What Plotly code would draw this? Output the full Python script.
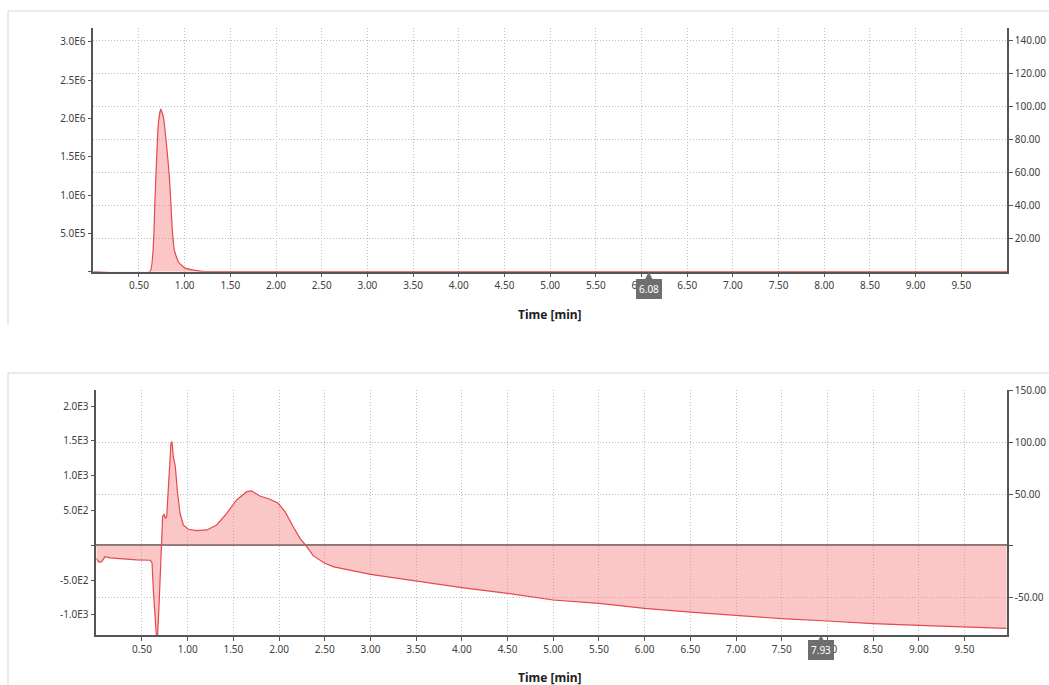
import plotly.graph_objects as go

W, H = 1049, 685

# ---------------- data ----------------
# top chromatogram (intensity, counts)
top_time = [0.0, 0.62, 0.66, 0.675, 0.694, 0.712, 0.738, 0.767, 0.80, 0.83, 0.847,
            0.865, 0.887, 0.93, 1.0, 1.095, 1.19, 1.25, 10.0]
top_vals = [0, 0, 0.41e6, 0.935e6, 1.5e6, 1.94e6, 2.12e6, 2.02e6, 1.67e6, 1.28e6, 0.93e6,
            0.54e6, 0.28e6, 0.13e6, 0.05e6, 0.02e6, 0.005e6, 0, 0]

# bottom trace (signal)
bot_time = [0.00, 0.03, 0.06, 0.095, 0.15, 0.30, 0.44, 0.59, 0.61, 0.624, 0.642, 0.665,
            0.686, 0.705, 0.715, 0.726, 0.74, 0.755, 0.77, 0.79, 0.817, 0.828, 0.843,
            0.865, 0.886, 0.916, 0.952, 1.007, 1.098, 1.21, 1.317, 1.427, 1.536, 1.646,
            1.70, 1.79, 1.90, 1.99, 2.065, 2.155, 2.229, 2.294, 2.375, 2.5, 2.6, 3.0,
            3.5, 4.0, 4.5, 5.0, 5.5, 6.0, 6.5, 7.0, 7.5, 8.0, 8.5, 9.0, 9.5, 9.96]
bot_vals = [-190, -240, -235, -165, -180, -201, -211, -215, -255, -642, -1121, -1450,
            -882, -163, 124, 411, 450, 388, 411, 795, 1466, 1489, 1273,
            1129, 795, 460, 292, 230, 210, 220, 292, 460, 651, 770,
            780, 708, 661, 603, 483, 267, 100, -5, -153, -259, -311, -417,
            -513, -608, -690, -786, -834, -906, -960, -1006, -1054, -1088, -1126, -1150, -1169, -1193]

x_ticks = [0.5 * i for i in range(1, 20)]
x_labels = [f"{v:.2f}" for v in x_ticks]

top_left_ticks = [0, 5e5, 1e6, 1.5e6, 2e6, 2.5e6, 3e6]
top_left_labels = ["", "5.0E5", "1.0E6", "1.5E6", "2.0E6", "2.5E6", "3.0E6"]
top_right_ticks = [20, 40, 60, 80, 100, 120, 140]
top_right_labels = ["20.00", "40.00", "60.00", "80.00", "100.00", "120.00", "140.00"]

bot_left_ticks = [-1000, -500, 0, 500, 1000, 1500, 2000]
bot_left_labels = ["-1.0E3", "-5.0E2", "", "5.0E2", "1.0E3", "1.5E3", "2.0E3"]
bot_right_ticks = [-50, 0, 50, 100, 150]
bot_right_labels = ["-50.00", "", "50.00", "100.00", "150.00"]

cursor_top = 6.08
cursor_bot = 7.93

# ---------------- styling ----------------
LINE = "#E5484D"
FILL = "rgba(245,120,120,0.42)"
AX = "#555555"
GRID = "#bdbdbd"
DASH = "1px,2px"
FONT = dict(family="Noto Sans, Open Sans, sans-serif", size=10, color="#404040")


def px(xp):
    return xp / W


def py(yp):
    return 1 - yp / H


fig = go.Figure()
fig.add_trace(go.Scatter(x=top_time, y=top_vals, mode="lines", fill="tozeroy",
                         line=dict(color=LINE, width=1.2, shape="spline", smoothing=0.4),
                         fillcolor=FILL, xaxis="x", yaxis="y", showlegend=False,
                         hoverinfo="skip"))
fig.add_trace(go.Scatter(x=bot_time, y=bot_vals, mode="lines", fill="tozeroy",
                         line=dict(color=LINE, width=1.2),
                         fillcolor=FILL, xaxis="x2", yaxis="y3", showlegend=False,
                         hoverinfo="skip"))
# empty traces so the right-hand (secondary) axes are drawn
fig.add_trace(go.Scatter(x=[None], y=[None], xaxis="x", yaxis="y2", showlegend=False,
                         hoverinfo="skip"))
fig.add_trace(go.Scatter(x=[None], y=[None], xaxis="x2", yaxis="y4", showlegend=False,
                         hoverinfo="skip"))

common_x = dict(tickvals=x_ticks, ticktext=x_labels, showgrid=True, gridcolor=GRID,
                griddash=DASH, gridwidth=1, showline=True, linecolor=AX, linewidth=1.5,
                ticks="outside", ticklen=4, tickcolor=AX, zeroline=False, tickfont=FONT,
                automargin=False)
common_y = dict(showline=True, linecolor=AX, linewidth=1.5, ticks="outside", ticklen=4,
                tickcolor=AX, tickfont=FONT, automargin=False)

fig.update_layout(
    width=W, height=H,
    margin=dict(l=0, r=0, t=0, b=0, autoexpand=False),
    paper_bgcolor="white", plot_bgcolor="white",
    xaxis=dict(domain=[px(93.3), px(1007)], range=[0, 10], anchor="y", **common_x),
    yaxis=dict(domain=[py(271.7), py(28)], range=[0, 3.179e6], tickvals=top_left_ticks,
               ticktext=top_left_labels, showgrid=False, zeroline=False, anchor="x",
               **common_y),
    yaxis2=dict(overlaying="y", side="right", anchor="x", range=[0, 147.7],
                tickvals=top_right_ticks, ticktext=top_right_labels, showgrid=True,
                gridcolor=GRID, griddash=DASH, zeroline=False, **common_y),
    xaxis2=dict(domain=[px(96.3), px(1007)], range=[0, 9.965], anchor="y3", **common_x),
    yaxis3=dict(domain=[py(635), py(390)], range=[-1289, 2231], tickvals=bot_left_ticks,
                ticktext=bot_left_labels, showgrid=False, zeroline=True,
                zerolinecolor="#7a7a7a", zerolinewidth=2, anchor="x2", **common_y),
    yaxis4=dict(overlaying="y3", side="right", anchor="x2", range=[-86, 150.5],
                tickvals=bot_right_ticks, ticktext=bot_right_labels, showgrid=True,
                gridcolor=GRID, griddash=DASH, zeroline=False, **common_y),
)

# panel frames
frame = dict(color="#d6d6d6", width=1)
fig.add_shape(type="line", xref="paper", yref="paper", x0=px(8), x1=1, y0=py(11), y1=py(11), line=frame)
fig.add_shape(type="line", xref="paper", yref="paper", x0=px(8), x1=px(8), y0=py(11), y1=py(325), line=frame)
fig.add_shape(type="line", xref="paper", yref="paper", x0=px(8), x1=1, y0=py(373), y1=py(373), line=frame)
fig.add_shape(type="line", xref="paper", yref="paper", x0=px(8), x1=px(8), y0=py(373), y1=0, line=frame)

# axis titles
for yy in (314, 677):
    fig.add_annotation(text="<b>Time [min]</b>", xref="paper", yref="paper",
                       x=px(550), y=py(yy), showarrow=False, yanchor="middle",
                       font=dict(family="Noto Sans, Open Sans, sans-serif", size=12, color="#202020"))

# cursor markers
for xv, xr, yr, ay in ((cursor_top, "x", "y", 17), (cursor_bot, "x2", "y3", 15)):
    yv = 0 if yr == "y" else -1289
    fig.add_annotation(x=xv, y=yv, xref=xr, yref=yr, text=f"{xv:.2f}", showarrow=True,
                       ax=0, ay=ay, arrowhead=2, arrowsize=1, arrowwidth=1.5,
                       arrowcolor="#6e6e6e", bgcolor="#6e6e6e", bordercolor="#6e6e6e",
                       borderpad=2, font=dict(family="Noto Sans, Open Sans, sans-serif",
                                              size=10, color="white"))

fig.write_html("out.html")
